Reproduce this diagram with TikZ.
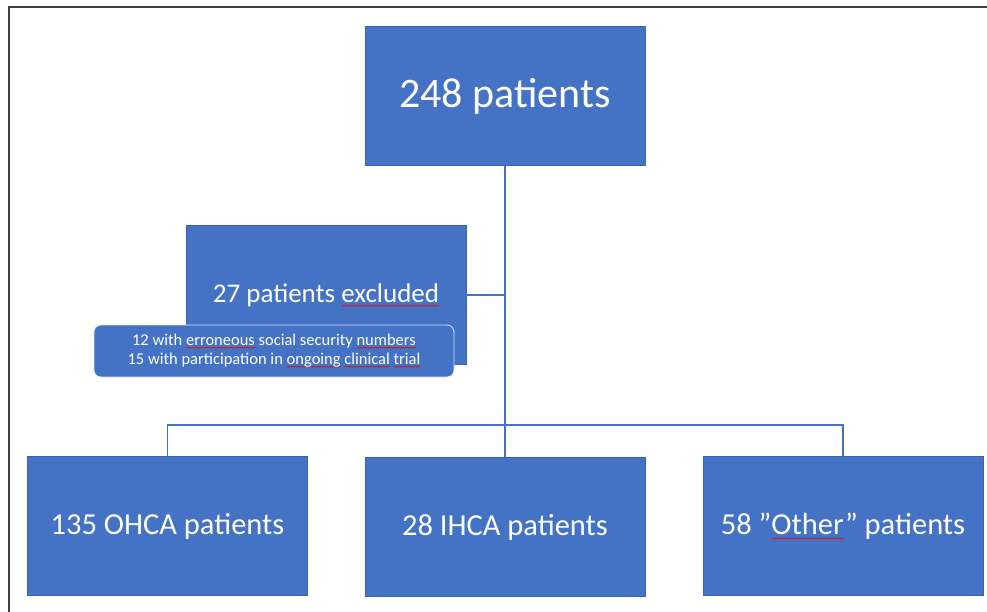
\documentclass[tikz,border=0pt]{standalone}
\usepackage{fontspec}
\setmainfont{Carlito}
\usepackage{xcolor}
\usepackage{tikz}
\usetikzlibrary{decorations.pathmorphing}

\definecolor{boxblue}{HTML}{4472C4}
\definecolor{edgeblue}{HTML}{3B63AD}
\newlength{\spellwd}
\newcommand{\spellmark}[1]{\settowidth{\spellwd}{#1}%
  \rlap{\raisebox{-0.16em}{\tikz[x=1pt,y=1pt,sharp corners]\draw[red, line width=0.45pt, decorate,
    decoration={zigzag, amplitude=0.55pt, segment length=2pt}] (0,0) -- (\spellwd,0);}}#1}

\tikzset{
  cohort/.style={fill=boxblue, draw=edgeblue, line width=0.5pt, text=white,
    minimum width=280, minimum height=139, inner sep=0pt},
  reasons/.style={fill=boxblue, draw=blue!10, line width=0.8pt, text=white,
    rounded corners=7pt, minimum width=360, minimum height=52, inner sep=0pt,
    align=center, font=\fontsize{16.5}{19}\selectfont},
  link/.style={draw=boxblue, line width=1.4pt}
}

\begin{document}
\begin{tikzpicture}[x=1pt, y=-1pt]
\useasboundingbox (0,0) rectangle (987,612);
\draw[line width=2pt, black!75] (8.5,612) -- (8.5,7.5) -- (987,7.5); % frame

% Boxes
\node[cohort, font=\fontsize{42}{50}\selectfont] (total) at (505,96) {248 patients};
\node[cohort, font=\fontsize{27}{32}\selectfont] (excl) at (326,295) {27 patients \spellmark{excluded}};
\node[reasons] (why) at (274,351) {12 with \spellmark{erroneous} social security \spellmark{numbers}\\
  15 with participation in \spellmark{ongoing} \spellmark{clinical} \spellmark{trial}};
\node[cohort, font=\fontsize{30.5}{36}\selectfont] (ohca) at (167.5,526) {135 OHCA patients};
\node[cohort, font=\fontsize{30.5}{36}\selectfont] (ihca) at (505,527) {28 IHCA patients};
\node[cohort, font=\fontsize{30.5}{36}\selectfont] (other) at (843,526) {58 ”\spellmark{Other}” patients};

% Lines
\coordinate (split) at (505,425);
\draw[link] (total.south) -- (ihca.north);
\draw[link] (excl.east) -- (excl.east -| total.south);
\draw[link] (ohca.north) |- (split) -| (other.north);
\end{tikzpicture}
\end{document}
